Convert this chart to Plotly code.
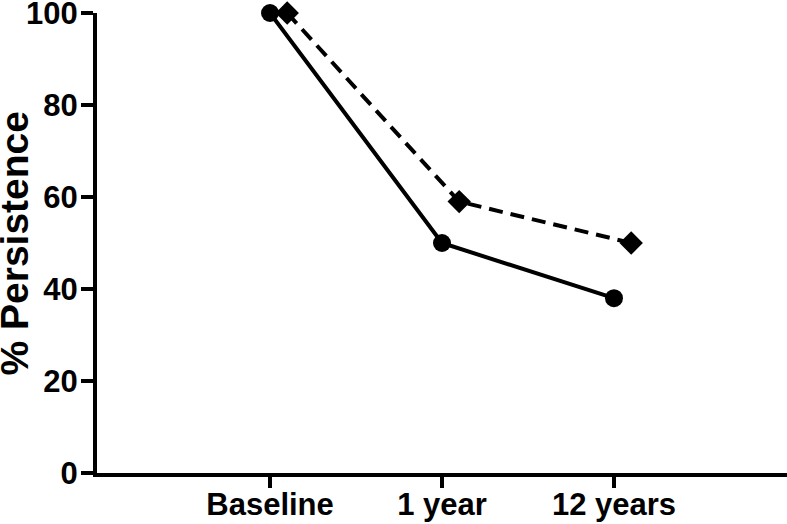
import plotly.graph_objects as go

categories = ["Baseline", "1 year", "12 years"]
solid_values = [100, 50, 38]
dashed_values = [100, 59, 50]
y_ticks = [0, 20, 40, 60, 80, 100]
y_title = "% Persistence"

idx = list(range(len(categories)))
offset = 0.1

fig = go.Figure()
fig.add_trace(go.Scatter(
    x=idx, y=solid_values, mode="lines+markers",
    line=dict(color="black", width=4),
    marker=dict(symbol="circle", size=18, color="black"),
    cliponaxis=False, showlegend=False))
fig.add_trace(go.Scatter(
    x=[i + offset for i in idx], y=dashed_values, mode="lines+markers",
    line=dict(color="black", width=4, dash="14px,8px"),
    marker=dict(symbol="diamond", size=18, color="black"),
    cliponaxis=False, showlegend=False))

font = dict(family="Arial, Liberation Sans, sans-serif", color="black", size=31, weight="bold")

fig.update_layout(
    width=787, height=524,
    margin=dict(l=97, r=0, t=13, b=51, autoexpand=False),
    paper_bgcolor="white", plot_bgcolor="white",
    font=font,
    xaxis=dict(
        range=[-1.006, 3.006], tickvals=idx, ticktext=categories,
        showline=True, linewidth=4, linecolor="black",
        ticks="outside", ticklen=11, tickwidth=4, tickcolor="black",
        showgrid=False, zeroline=False, tickfont=font,
        ticklabelstandoff=-10, automargin=False, ticklabeloverflow="allow"),
    yaxis=dict(
        range=[0, 100], tickvals=y_ticks,
        showline=True, linewidth=4, linecolor="black",
        ticks="outside", ticklen=12, tickwidth=4, tickcolor="black",
        showgrid=False, zeroline=False, tickfont=font,
        ticklabelstandoff=-3, automargin=False, ticklabeloverflow="allow"),
    annotations=[dict(
        text=y_title, xref="paper", yref="paper", x=0, y=0.5,
        xshift=-107, xanchor="left", yanchor="middle", textangle=-90,
        showarrow=False,
        font=dict(family="Arial, Liberation Sans, sans-serif", size=39, color="black", weight="bold"))],
)

fig.write_html("out.html", config={"displayModeBar": False},
               post_script="document.body.style.margin='0';")
